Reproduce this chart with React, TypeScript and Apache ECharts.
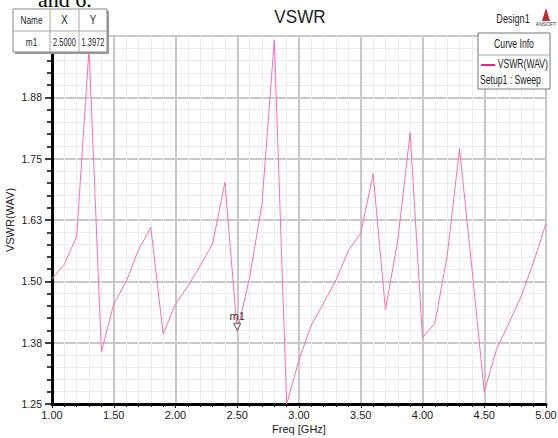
import React, { useEffect, useRef } from "react";
import * as echarts from "echarts";

const freqs = [1.0, 1.1, 1.2, 1.3, 1.4, 1.5, 1.6, 1.7, 1.8, 1.9, 2.0, 2.1, 2.2, 2.3, 2.4, 2.5, 2.6, 2.7, 2.8, 2.9, 3.0, 3.1, 3.2, 3.3, 3.4, 3.5, 3.6, 3.7, 3.8, 3.9, 4.0, 4.1, 4.2, 4.3, 4.4, 4.5, 4.6, 4.7, 4.8, 4.9, 5.0];
const vswr = [1.505, 1.535, 1.592, 1.975, 1.356, 1.454, 1.499, 1.564, 1.61, 1.393, 1.454, 1.49, 1.532, 1.576, 1.702, 1.3972, 1.508, 1.657, 1.992, 1.25, 1.34, 1.411, 1.456, 1.503, 1.563, 1.598, 1.719, 1.442, 1.584, 1.803, 1.385, 1.414, 1.552, 1.771, 1.527, 1.275, 1.362, 1.415, 1.47, 1.54, 1.618];
const markerX = 2.5;
const markerY = 1.3972;
const FONT = "'Liberation Sans Narrow', 'Arial Narrow', 'Liberation Sans', Arial, sans-serif";
const PINK = "#ff6eb4";

function txt(x: number, y: number, text: string, size: number, sx: number, align = "center") {
  return {
    type: "text", x, y, scaleX: sx, z: 12,
    style: { text, font: `${size}px ${FONT}`, fill: "#222", align, verticalAlign: "middle" },
  };
}

export default function App() {
  const ref = useRef<HTMLDivElement>(null);
  useEffect(() => {
    if (!ref.current) return;
    const chart = echarts.init(ref.current, null, { renderer: "svg" });
    const data = freqs.map((f, i) => [f, vswr[i]]);
    chart.setOption({
      animation: false,
      backgroundColor: "#ffffff",
      grid: {
        left: 52, top: 36, width: 494, height: 368,
        containLabel: false, outerBoundsMode: "none",
        show: true, borderColor: "#111", borderWidth: 2, backgroundColor: "transparent",
      },
      xAxis: {
        type: "value", min: 1, max: 5, interval: 0.5,
        name: "Freq [GHz]", nameLocation: "middle", nameGap: 19, nameMoveOverlap: false,
        nameTextStyle: { fontFamily: FONT, fontSize: 11, color: "#222" },
        axisLine: { show: true, lineStyle: { color: "#000", width: 3 } },
        axisTick: { show: true, length: 4, lineStyle: { color: "#000" } },
        minorTick: { show: true, splitNumber: 5, length: 3, lineStyle: { color: "#000" } },
        axisLabel: { fontFamily: FONT, fontSize: 11, color: "#222", margin: 5, formatter: (v: number) => v.toFixed(2) },
        splitLine: { show: true, lineStyle: { color: "#c8c8c8", width: 2 } },
        minorSplitLine: { show: true, lineStyle: { color: "#ececec", width: 1 } },
      },
      yAxis: {
        type: "value", min: 1.25, max: 2.0, interval: 0.125,
        name: "VSWR(WAV)", nameLocation: "middle", nameGap: 37, nameRotate: 90, nameMoveOverlap: false,
        nameTextStyle: { fontFamily: FONT, fontSize: 11, color: "#222" },
        axisLine: { show: true, lineStyle: { color: "#000", width: 3 } },
        axisTick: { show: true, length: 7, lineStyle: { color: "#000", width: 1.5 } },
        minorTick: { show: true, splitNumber: 5, length: 5, lineStyle: { color: "#000", width: 1.5 } },
        axisLabel: { fontFamily: FONT, fontSize: 10.5, color: "#222", margin: 10, showMaxLabel: false, formatter: (v: number) => v.toFixed(2) },
        splitLine: { show: true, lineStyle: { color: "#c8c8c8", width: 2 } },
        minorSplitLine: { show: true, lineStyle: { color: "#ececec", width: 1 } },
      },
      series: [
        {
          type: "line",
          data,
          symbol: "none",
          lineStyle: { color: PINK, width: 1 },
          z: 3,
          markPoint: {
            symbol: "triangle",
            symbolSize: [7, 7],
            symbolRotate: 180,
            symbolOffset: [0, -5],
            itemStyle: { color: "#ffffff", borderColor: "#555", borderWidth: 1 },
            label: { show: true, position: "top", distance: 1, formatter: "m1", fontFamily: FONT, fontSize: 11, color: "#333" },
            data: [{ coord: [markerX, markerY] }],
          },
        },
      ],
      graphic: [
        {
          type: "text", left: 38, top: -12,
          style: { text: "and 6.", font: "22px serif", fill: "#000" },
        },
        // title
        txt(300, 17, "VSWR", 19, 0.9),
        // marker table
        { type: "rect", shape: { x: 15, y: 11, width: 94, height: 43 }, style: { fill: "#9a9a9a" }, z: 10 },
        { type: "rect", shape: { x: 13, y: 9, width: 94, height: 43 }, style: { fill: "#fff", stroke: "#888", lineWidth: 1 }, z: 11 },
        { type: "line", shape: { x1: 13, y1: 31, x2: 107, y2: 31 }, style: { stroke: "#aaa", lineWidth: 1 }, z: 12 },
        { type: "line", shape: { x1: 50, y1: 9, x2: 50, y2: 52 }, style: { stroke: "#aaa", lineWidth: 1 }, z: 12 },
        { type: "line", shape: { x1: 79, y1: 9, x2: 79, y2: 52 }, style: { stroke: "#aaa", lineWidth: 1 }, z: 12 },
        txt(31.5, 20, "Name", 11, 0.75),
        txt(64.5, 20, "X", 12, 0.8),
        txt(93, 20, "Y", 12, 0.8),
        txt(31.5, 42, "m1", 11, 0.75),
        txt(64.5, 42, "2.5000", 11, 0.68),
        txt(93, 42, "1.3972", 11, 0.68),
        // Design1 + logo
        txt(513, 18, "Design1", 13, 0.7),
        { type: "polygon", shape: { points: [[546, 8], [542, 21], [550, 21]] }, style: { fill: "#c0282d" }, z: 12 },
        { type: "text", x: 546, y: 24, z: 12, style: { text: "ANSOFT", font: `5px ${FONT}`, fill: "#333", align: "center", verticalAlign: "middle" } },
        // Curve info box
        { type: "rect", shape: { x: 478, y: 33, width: 72, height: 56 }, style: { fill: "#fff", stroke: "#777", lineWidth: 1 }, z: 11 },
        { type: "line", shape: { x1: 478, y1: 55, x2: 550, y2: 55 }, style: { stroke: "#aaa", lineWidth: 1 }, z: 12 },
        txt(514, 44, "Curve Info", 12, 0.72),
        { type: "line", shape: { x1: 481, y1: 65, x2: 495, y2: 65 }, style: { stroke: "#ff1a8c", lineWidth: 2 }, z: 12 },
        txt(548, 64, "VSWR(WAV)", 12, 0.72, "right"),
        txt(480, 80, "Setup1 : Sweep", 12, 0.72, "left"),
      ],
    });
    return () => chart.dispose();
  }, []);
  return <div ref={ref} style={{ position: "absolute", left: 0, top: 0, width: 558, height: 438 }} />;
}
